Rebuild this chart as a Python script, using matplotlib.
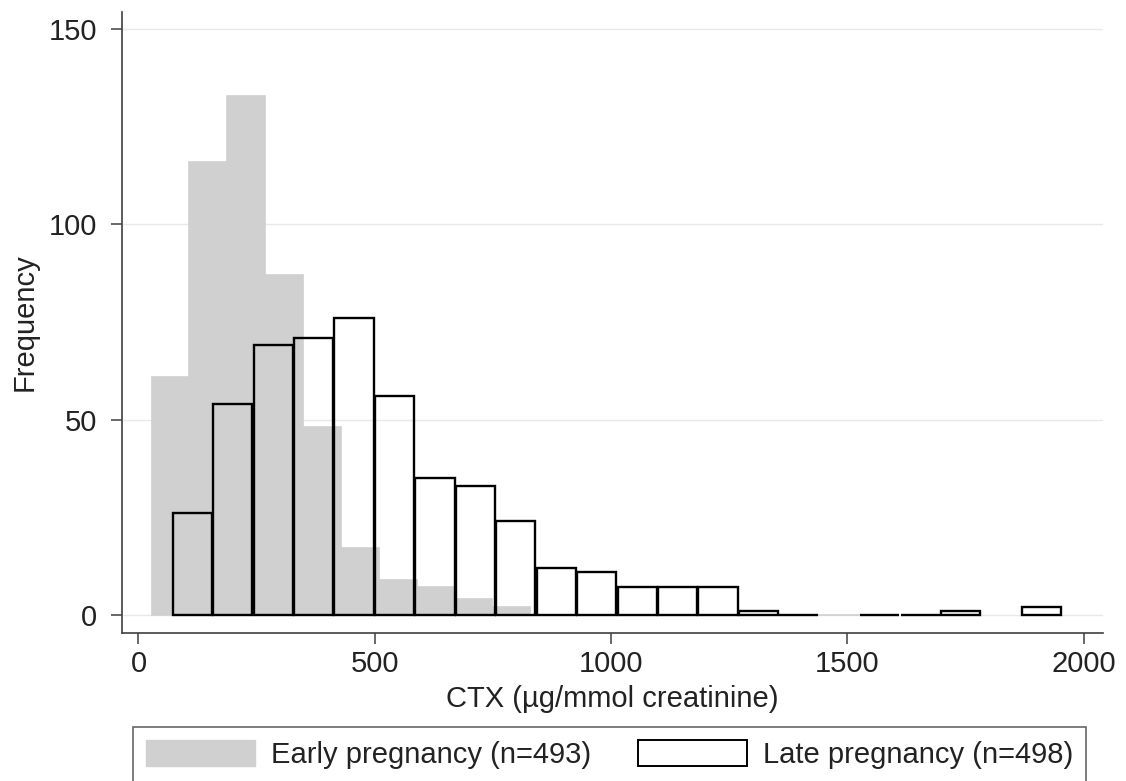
import numpy as np
import matplotlib
matplotlib.use('Agg')
import matplotlib.pyplot as plt
from matplotlib.patches import Patch

plt.rcParams['font.family'] = ['Liberation Sans', 'DejaVu Sans']

# early pregnancy histogram (gray)
early_start = 27.7
early_width = 80.1
early_counts = [61, 116, 133, 87, 48, 17, 9, 7, 4, 2,
                0, 0, 0, 0, 0, 0, 0, 0, 0]

# late pregnancy histogram (outline); nan = bin not drawn
late_start = 71.2
late_width = 85.55
late_counts = [26, 54, 69, 71, 76, 56, 35, 33, 24, 12, 11,
               7, 7, 7, 1, 0, np.nan, 0, 0, 1, np.nan, 2]

xticks = [0, 500, 1000, 1500, 2000]
yticks = [0, 50, 100, 150]
early_label = 'Early pregnancy (n=493)'
late_label = 'Late pregnancy (n=498)'

fs = 21
txt = '#222222'

fig = plt.figure(figsize=(11.26, 7.81), dpi=100)
ax = fig.add_axes([0.1083, 0.1895, 0.8710, 0.7955])

early_left = early_start + early_width * np.arange(len(early_counts))
ax.bar(early_left, early_counts, width=early_width, align='edge',
       color='#d0d0d0', edgecolor='#d0d0d0', linewidth=1.2, zorder=2)

late_counts = np.array(late_counts, dtype=float)
late_left = late_start + late_width * np.arange(len(late_counts))
keep = ~np.isnan(late_counts)
gap = late_width * 0.03
ax.bar(late_left[keep] + gap / 2, late_counts[keep], width=late_width - gap,
       align='edge', facecolor='none', edgecolor='black', linewidth=1.7,
       zorder=3)

ax.set_xlim(-35, 2040)
ax.set_ylim(-4.7, 154.5)
ax.set_xticks(xticks)
ax.set_yticks(yticks)
ax.yaxis.grid(True, color='#e8e8e8', linewidth=1.0)
ax.set_axisbelow(True)

for s in ['top', 'right']:
    ax.spines[s].set_visible(False)
for s in ['left', 'bottom']:
    ax.spines[s].set_color('#404040')
    ax.spines[s].set_linewidth(1.2)

ax.tick_params(axis='both', direction='out', length=8, width=1.1,
               color='#404040', labelsize=fs, labelcolor=txt)
ax.tick_params(axis='y', pad=10)
ax.tick_params(axis='x', pad=4)

ax.set_xlabel('CTX (\u00b5g/mmol creatinine)', fontsize=fs, color=txt,
              labelpad=5)
ax.set_ylabel('Frequency', fontsize=fs, color=txt, labelpad=7)

handles = [Patch(facecolor='#d0d0d0', edgecolor='#d0d0d0', label=early_label),
           Patch(facecolor='white', edgecolor='black', linewidth=1.4,
                 label=late_label)]
leg = fig.legend(handles=handles, loc='upper left', ncol=2,
                 bbox_to_anchor=(0.118, 0.069),
                 fontsize=fs, frameon=True, fancybox=False,
                 handlelength=3.73, handleheight=1.0, handletextpad=0.56,
                 columnspacing=1.6, borderpad=0.45, borderaxespad=0)
leg.get_frame().set_edgecolor('#404040')
leg.get_frame().set_linewidth(1.2)
for t in leg.get_texts():
    t.set_color(txt)

plt.savefig('out.png', dpi=100)
